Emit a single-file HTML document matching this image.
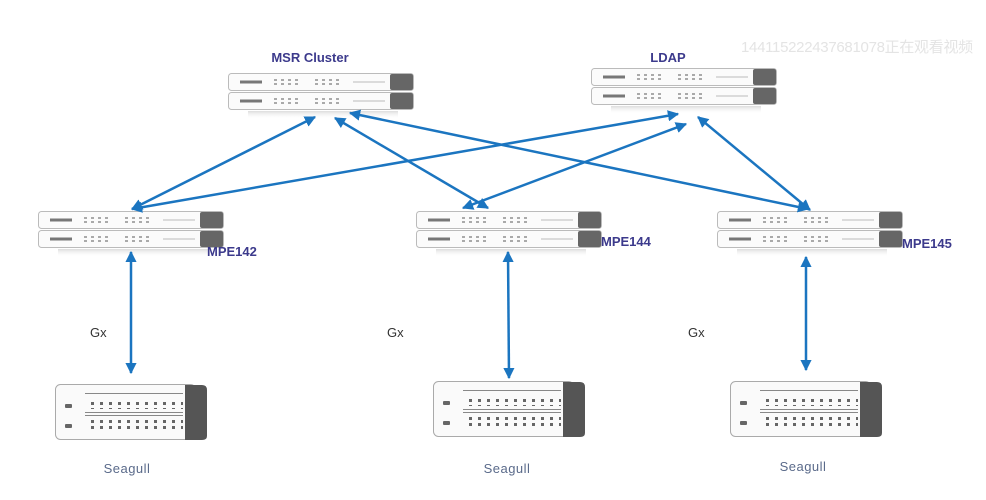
<!DOCTYPE html>
<html><head><meta charset="utf-8"><style>
html,body{margin:0;padding:0;background:#fff;}
svg{display:block}
.lbl{font-family:"Liberation Sans",sans-serif;font-weight:bold;font-size:13px;fill:#3c3a8c}
.g{font-family:"Liberation Sans",sans-serif;font-size:13px;fill:#333}
.s{font-family:"Liberation Sans",sans-serif;font-size:13px;fill:#5a6a8a;letter-spacing:0.5px}
</style></head><body>
<svg width="986" height="500" viewBox="0 0 986 500" xmlns="http://www.w3.org/2000/svg">
<defs>
<linearGradient id="sh" x1="0" y1="0" x2="0" y2="1"><stop offset="0" stop-color="#ddd"/><stop offset="1" stop-color="#fff" stop-opacity="0"/></linearGradient>
<g id="unit">
<rect x="0.5" y="0.5" width="185" height="17" rx="3" fill="#fbfbfb" stroke="#bbb"/>
<rect x="162" y="1" width="23" height="16" rx="2" fill="#666"/>
<rect x="12" y="7.5" width="22" height="3" fill="#777"/>
<g fill="#aaa">
<rect x="46" y="6" width="3" height="2"/><rect x="53" y="6" width="3" height="2"/><rect x="60" y="6" width="3" height="2"/><rect x="67" y="6" width="3" height="2"/>
<rect x="46" y="10" width="3" height="2"/><rect x="53" y="10" width="3" height="2"/><rect x="60" y="10" width="3" height="2"/><rect x="67" y="10" width="3" height="2"/>
<rect x="87" y="6" width="3" height="2"/><rect x="94" y="6" width="3" height="2"/><rect x="101" y="6" width="3" height="2"/><rect x="108" y="6" width="3" height="2"/>
<rect x="87" y="10" width="3" height="2"/><rect x="94" y="10" width="3" height="2"/><rect x="101" y="10" width="3" height="2"/><rect x="108" y="10" width="3" height="2"/>
</g>
<rect x="125" y="8.5" width="32" height="1" fill="#bbb"/>
</g>
<g id="sw"><use href="#unit"/><use href="#unit" y="19"/><rect x="20" y="38" width="150" height="8" fill="url(#sh)"/></g>
<pattern id="dots" width="9" height="6" patternUnits="userSpaceOnUse"><rect x="0" y="0" width="3" height="3" fill="#666"/></pattern>
<g id="sg">
<rect x="0.5" y="0.5" width="140" height="55" rx="5" fill="#fafafa" stroke="#aaa"/>
<path d="M130 1 h17 q5 0 5 5 v46 q0 4 -5 4 h-17 z" fill="#555"/>
<rect x="10" y="20" width="7" height="4" rx="1" fill="#666"/>
<rect x="10" y="40" width="7" height="4" rx="1" fill="#666"/>
<rect x="30" y="9" width="98" height="1" fill="#888"/>
<rect x="30" y="16" width="98" height="9" fill="url(#dots)"/>
<rect x="30" y="28" width="98" height="1" fill="#888"/>
<rect x="30" y="31" width="98" height="1" fill="#888"/>
<rect x="30" y="36" width="98" height="9" fill="url(#dots)"/>
</g>
<marker id="a" viewBox="0 0 10 10" refX="9" refY="5" markerWidth="4.5" markerHeight="4.5" orient="auto-start-reverse"><path d="M0 0 L10 5 L0 10 z" fill="#1b75c0"/></marker>
</defs>

<text x="741" y="52" font-family="Liberation Sans,Noto Sans CJK SC,sans-serif" font-size="15" letter-spacing="-0.3" fill="#e4e4e4">1441152224376810​78正在观看视频</text>

<use href="#sw" x="228" y="73"/>
<use href="#sw" x="591" y="68"/>
<use href="#sw" x="38" y="211"/>
<use href="#sw" x="416" y="211"/>
<use href="#sw" x="717" y="211"/>

<use href="#sg" x="55" y="384"/>
<use href="#sg" x="433" y="381"/>
<use href="#sg" x="730" y="381"/>

<g stroke="#1b75c0" stroke-width="2.5" fill="none" marker-start="url(#a)" marker-end="url(#a)">
<line x1="315" y1="117" x2="132" y2="209"/>
<line x1="335" y1="118" x2="488" y2="208"/>
<line x1="350" y1="113" x2="808" y2="209"/>
<line x1="678" y1="114" x2="132" y2="209"/>
<line x1="686" y1="124" x2="463" y2="208"/>
<line x1="698" y1="117" x2="810" y2="210"/>
<line x1="131" y1="252" x2="131" y2="373"/>
<line x1="508" y1="252" x2="509" y2="378"/>
<line x1="806" y1="257" x2="806" y2="370"/>
</g>

<text class="lbl" x="310" y="62" text-anchor="middle">MSR Cluster</text>
<text class="lbl" x="668" y="62" text-anchor="middle">LDAP</text>
<text class="lbl" x="207" y="256">MPE142</text>
<text class="lbl" x="601" y="246">MPE144</text>
<text class="lbl" x="902" y="248">MPE145</text>
<text class="g" x="90" y="337">Gx</text>
<text class="g" x="387" y="337">Gx</text>
<text class="g" x="688" y="337">Gx</text>
<text class="s" x="127" y="473" text-anchor="middle">Seagull</text>
<text class="s" x="507" y="473" text-anchor="middle">Seagull</text>
<text class="s" x="803" y="471" text-anchor="middle">Seagull</text>
</svg>
</body></html>
